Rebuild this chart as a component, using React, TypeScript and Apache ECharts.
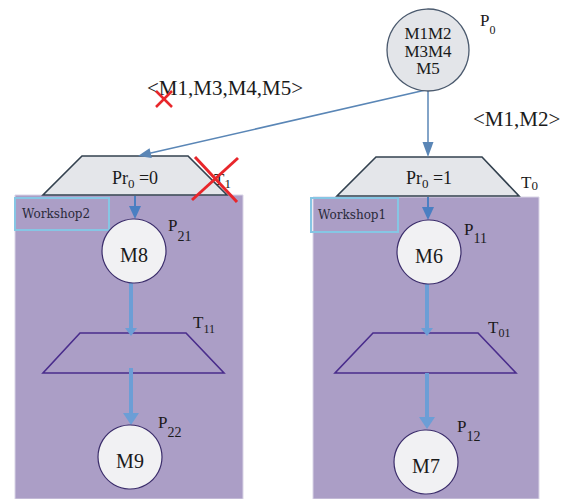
import React, { useEffect, useRef } from "react";
import * as echarts from "echarts";

const W = 565;
const H = 499;
const SERIF = '"Liberation Serif", "Times New Roman", serif';
const SMALL_SERIF = '"DejaVu Serif", serif';

// workshop panels [x0, y0, x1, y1]
const panels = [
  [15, 195, 243, 499],
  [313, 197, 539, 499],
];

const workshops = [
  { label: "Workshop2", x0: 15, y0: 198, x1: 109, y1: 230 },
  { label: "Workshop1", x0: 311, y0: 198, x1: 398, y1: 232 },
];

// transitions: top edge [xl, xr, y], bottom edge [xl, xr, y]
const transitions = [
  { name: "T1", top: [82, 188, 156], bottom: [43, 227, 195], filled: true, main: "Pr", sub: "0", tail: " =0" },
  { name: "T0", top: [376, 482, 157], bottom: [337, 519, 196], filled: true, main: "Pr", sub: "0", tail: " =1" },
  { name: "T11", top: [80, 186, 333], bottom: [43, 224, 373], filled: false, main: "", sub: "", tail: "" },
  { name: "T01", top: [373, 478, 333], bottom: [335, 516, 373], filled: false, main: "", sub: "", tail: "" },
];

// places
const places = [
  { name: "P0", cx: 428, cy: 50, r: 41, marks: ["M1M2", "M3M4", "M5"], top: true },
  { name: "P21", cx: 134, cy: 251, r: 32, marks: ["M8"], top: false },
  { name: "P11", cx: 429, cy: 252, r: 32, marks: ["M6"], top: false },
  { name: "P22", cx: 130, cy: 457, r: 32, marks: ["M9"], top: false },
  { name: "P12", cx: 426, cy: 462, r: 32, marks: ["M7"], top: false },
];

// arcs
const arcs = [
  { from: [430, 89], to: [138, 156], w: 1.5, hl: 13, hw: 10, color: "#5a86b6" },
  { from: [428, 90], to: [428, 157], w: 1.5, hl: 15, hw: 11, color: "#5a86b6" },
  { from: [135, 196], to: [135, 219], w: 2, hl: 13, hw: 12, color: "#4a7fc2" },
  { from: [428, 197], to: [428, 220], w: 2, hl: 13, hw: 12, color: "#4a7fc2" },
  { from: [131, 283], to: [131, 336], w: 4, hl: 8, hw: 12, color: "#6c9ed6" },
  { from: [131, 368], to: [131, 425], w: 4, hl: 12, hw: 16, color: "#6c9ed6" },
  { from: [427, 284], to: [427, 336], w: 4, hl: 8, hw: 12, color: "#6c9ed6" },
  { from: [427, 373], to: [427, 429], w: 4, hl: 12, hw: 16, color: "#6c9ed6" },
];

// red strike-outs
const strikes = [
  { a: [156, 91], b: [172, 107], w: 2.5 },
  { a: [172, 91], b: [156, 107], w: 2.5 },
  { a: [195, 157], b: [237, 202], w: 3 },
  { a: [238, 158], b: [192, 200], w: 3 },
];

// subscripted labels
const subLabels = [
  { main: "P", sub: "0", x: 480, y: 20.5, size: 17, subSize: 12, off: 9 },
  { main: "T", sub: "1", x: 214, y: 179, size: 17, subSize: 13, off: 4 },
  { main: "T", sub: "0", x: 521, y: 182, size: 17, subSize: 13, off: 3 },
  { main: "P", sub: "21", x: 168, y: 225.5, size: 17, subSize: 14, off: 11 },
  { main: "P", sub: "11", x: 464, y: 229, size: 17, subSize: 14, off: 9 },
  { main: "T", sub: "11", x: 193, y: 322.5, size: 17, subSize: 12, off: 6 },
  { main: "T", sub: "01", x: 488, y: 327.5, size: 17, subSize: 12, off: 5.5 },
  { main: "P", sub: "22", x: 158, y: 422.5, size: 17, subSize: 14, off: 9.5 },
  { main: "P", sub: "12", x: 457, y: 426, size: 17, subSize: 14, off: 10 },
];

const arcLabels = [
  { text: "<M1,M3,M4,M5>", x: 147, y: 88 },
  { text: "<M1,M2>", x: 473, y: 119 },
];

const xy = (d: number[]) => [d[0], d[1]];

export default function App() {
  const ref = useRef<HTMLDivElement>(null);
  useEffect(() => {
    const chart = echarts.init(ref.current!, null, { renderer: "svg" });
    const C = (api: any, x: number, y: number) => api.coord([x, y]);

    const subText = (
      api: any, x: number, y: number, main: string, sub: string, tail: string,
      size: number, subSize: number, off: number, align: string
    ) => {
      const p = C(api, x, y);
      const L = 2 * off + subSize;
      return {
        type: "text",
        style: {
          x: p[0],
          y: p[1],
          text: `{m|${main}}{s|${sub}}` + (tail ? `{m|${tail}}` : ""),
          align,
          verticalAlign: "middle",
          fontSize: size,
          fontFamily: SERIF,
          fill: "#1a1a1a",
          rich: {
            m: { fontSize: size, fontFamily: SERIF, lineHeight: L, fill: "#1a1a1a", verticalAlign: "middle" },
            s: { fontSize: subSize, fontFamily: SERIF, lineHeight: subSize, fill: "#1a1a1a", verticalAlign: "bottom" },
          },
        },
      };
    };

    const option: any = {
      animation: false,
      backgroundColor: "#ffffff",
      grid: { left: 0, right: 0, top: 0, bottom: 0 },
      xAxis: { type: "value", min: 0, max: W, show: false },
      yAxis: { type: "value", min: 0, max: H, inverse: true, show: false },
      series: [
        {
          type: "custom",
          z: 1,
          data: panels.map((p) => xy(p)),
          renderItem: (params: any, api: any) => {
            const p = panels[params.dataIndex];
            const a = C(api, p[0], p[1]);
            const b = C(api, p[2], p[3]);
            return {
              type: "rect",
              shape: { x: a[0], y: a[1], width: b[0] - a[0], height: b[1] - a[1] },
              style: { fill: "#ab9ec6", stroke: "#d9d4e6", lineWidth: 1 },
            };
          },
        },
        {
          type: "custom",
          z: 2,
          data: workshops.map((w) => [w.x0, w.y0]),
          renderItem: (params: any, api: any) => {
            const w = workshops[params.dataIndex];
            const a = C(api, w.x0, w.y0);
            const b = C(api, w.x1, w.y1);
            return {
              type: "group",
              children: [
                {
                  type: "rect",
                  shape: { x: a[0], y: a[1], width: b[0] - a[0], height: b[1] - a[1] },
                  style: { fill: "rgba(0,0,0,0)", stroke: "#86c6e4", lineWidth: 2 },
                },
                {
                  type: "text",
                  style: {
                    x: a[0] + 7,
                    y: (a[1] + b[1]) / 2,
                    text: w.label,
                    fontSize: 12,
                    fontFamily: SMALL_SERIF,
                    fill: "#2a2a3a",
                    align: "left",
                    verticalAlign: "middle",
                  },
                },
              ],
            };
          },
        },
        {
          type: "custom",
          z: 3,
          data: transitions.map((t) => [t.top[0], t.top[2]]),
          renderItem: (params: any, api: any) => {
            const t = transitions[params.dataIndex];
            const pts = [
              C(api, t.top[0], t.top[2]),
              C(api, t.top[1], t.top[2]),
              C(api, t.bottom[1], t.bottom[2]),
              C(api, t.bottom[0], t.bottom[2]),
            ];
            const children: any[] = [
              {
                type: "polygon",
                shape: { points: pts },
                style: t.filled
                  ? { fill: "#e4e6ea", stroke: "#33414f", lineWidth: 1.6 }
                  : { fill: "rgba(0,0,0,0)", stroke: "#4a2d8c", lineWidth: 1.6 },
              },
            ];
            if (t.main) {
              const cx = (t.top[0] + t.top[1]) / 2;
              const cy = 177.5 + (t.top[2] - 156) * 0.5;
              children.push(subText(api, cx, cy, t.main, t.sub, t.tail, 18, 13, 5.5, "center"));
            }
            return { type: "group", children };
          },
        },
        {
          type: "custom",
          z: 4,
          data: arcs.map((a) => xy(a.from)),
          renderItem: (params: any, api: any) => {
            const a = arcs[params.dataIndex];
            const s = C(api, a.from[0], a.from[1]);
            const e = C(api, a.to[0], a.to[1]);
            const dx = e[0] - s[0];
            const dy = e[1] - s[1];
            const len = Math.sqrt(dx * dx + dy * dy);
            const ux = dx / len;
            const uy = dy / len;
            const bx = e[0] - ux * a.hl;
            const by = e[1] - uy * a.hl;
            const nx = -uy;
            const ny = ux;
            return {
              type: "group",
              children: [
                {
                  type: "line",
                  shape: { x1: s[0], y1: s[1], x2: bx + ux * 1, y2: by + uy * 1 },
                  style: { stroke: a.color, lineWidth: a.w },
                },
                {
                  type: "polygon",
                  shape: {
                    points: [
                      [e[0], e[1]],
                      [bx + (nx * a.hw) / 2, by + (ny * a.hw) / 2],
                      [bx - (nx * a.hw) / 2, by - (ny * a.hw) / 2],
                    ],
                  },
                  style: { fill: a.color },
                },
              ],
            };
          },
        },
        {
          type: "custom",
          z: 5,
          data: places.map((p) => [p.cx, p.cy]),
          renderItem: (params: any, api: any) => {
            const p = places[params.dataIndex];
            const c = C(api, p.cx, p.cy);
            const n = p.marks.length;
            const lh = 17.5;
            const children: any[] = [
              {
                type: "circle",
                shape: { cx: c[0], cy: c[1], r: p.r },
                style: p.top
                  ? { fill: "#e3e5e9", stroke: "#4b5a6e", lineWidth: 1.3 }
                  : { fill: "#f1f1f3", stroke: "#3b2d6b", lineWidth: 1.2 },
              },
            ];
            p.marks.forEach((m, i) => {
              children.push({
                type: "text",
                style: {
                  x: c[0],
                  y: c[1] + (i - (n - 1) / 2) * lh + (n === 1 ? 4 : 1),
                  text: m,
                  fontSize: n === 1 ? 20 : 17,
                  fontFamily: SERIF,
                  fill: "#1a1a1a",
                  align: "center",
                  verticalAlign: "middle",
                },
              });
            });
            return { type: "group", children };
          },
        },
        {
          type: "custom",
          z: 6,
          data: subLabels.map((l) => [l.x, l.y]),
          renderItem: (params: any, api: any) => {
            const l = subLabels[params.dataIndex];
            return {
              type: "group",
              children: [subText(api, l.x, l.y, l.main, l.sub, "", l.size, l.subSize, l.off, "left")],
            };
          },
        },
        {
          type: "custom",
          z: 6,
          data: arcLabels.map((l) => [l.x, l.y]),
          renderItem: (params: any, api: any) => {
            const l = arcLabels[params.dataIndex];
            const p = C(api, l.x, l.y);
            return {
              type: "text",
              style: {
                x: p[0],
                y: p[1],
                text: l.text,
                fontSize: 21,
                fontFamily: SERIF,
                fill: "#1a1a1a",
                align: "left",
                verticalAlign: "middle",
              },
            };
          },
        },
        {
          type: "custom",
          z: 7,
          data: strikes.map((s) => xy(s.a)),
          renderItem: (params: any, api: any) => {
            const s = strikes[params.dataIndex];
            const a = C(api, s.a[0], s.a[1]);
            const b = C(api, s.b[0], s.b[1]);
            return {
              type: "line",
              shape: { x1: a[0], y1: a[1], x2: b[0], y2: b[1] },
              style: { stroke: "#e8262b", lineWidth: s.w },
            };
          },
        },
      ],
    };
    chart.setOption(option);
    return () => chart.dispose();
  }, []);
  return (
    <div
      ref={ref}
      style={{ position: "absolute", left: 0, top: 0, width: W, height: H, background: "#ffffff" }}
    />
  );
}
